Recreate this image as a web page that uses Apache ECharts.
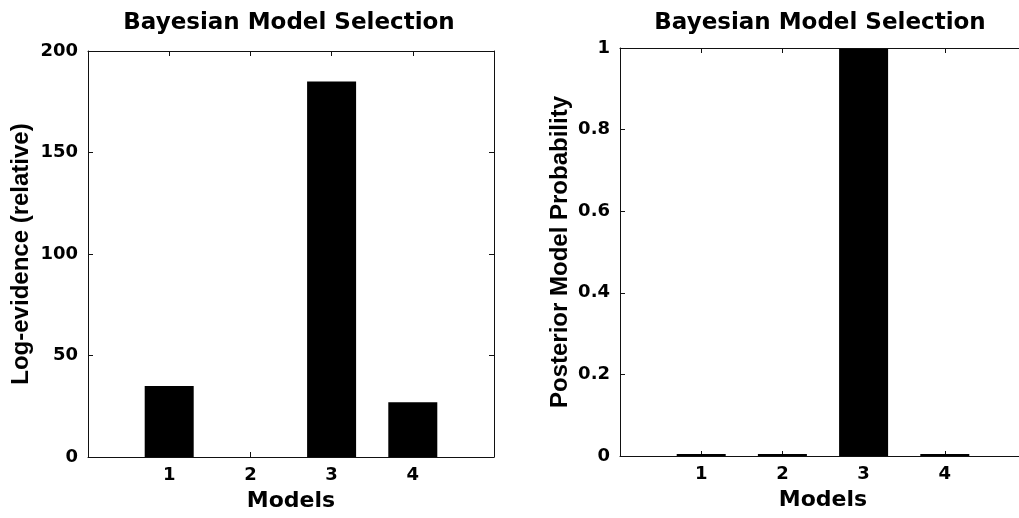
<!DOCTYPE html>
<html>
<head>
<meta charset="utf-8">
<script src="https://cdn.jsdelivr.net/npm/echarts@6/dist/echarts.min.js"></script>
<style>
    html, body { margin: 0; padding: 0; background: #fff; }
    #chart { width: 1019px; height: 518px; }
</style>
</head>
<body>
<div id="chart"></div>
<script>
// data
const models = [1, 2, 3, 4];
const logEvidence = [35, 0, 185, 27];
const posterior = [0.005, 0.005, 0.998, 0.005];
const logTicks = [0, 50, 100, 150, 200];
const probTicks = [0, 0.2, 0.4, 0.6, 0.8, 1];

// the reference is stretched sideways, DejaVu is the wide one
const FONT = 'DejaVu Sans';
const YFONT = 'Liberation Sans';

function pairs(values) {
    return models.map(function (m, i) { return [m, values[i]]; });
}

// x axes: bottom with labels, top only ticks (matlab box)
function xAxes(gridIndex, name) {
    let base = {
        gridIndex: gridIndex,
        type: 'value',
        min: 0,
        max: 5,
        interval: 1,
        splitLine: { show: false },
        axisLine: { onZero: false, lineStyle: { color: '#111', width: 1 } },
        axisTick: { inside: true, length: 5, lineStyle: { color: '#111' } }
    };
    let bottom = Object.assign({}, base, {
        position: 'bottom',
        name: name,
        nameLocation: 'middle',
        nameGap: 33,
        nameTextStyle: { color: '#000', fontFamily: FONT, fontWeight: 'bold', fontSize: 22 },
        axisLabel: {
            color: '#000', fontFamily: FONT, fontWeight: 'bold', fontSize: 18, margin: 9,
            formatter: function (v) { return models.indexOf(v) >= 0 ? String(v) : ''; }
        }
    });
    let top = Object.assign({}, base, { position: 'top', axisLabel: { show: false } });
    return [bottom, top];
}

function yAxes(gridIndex, name, ticks, nameGap) {
    let base = {
        gridIndex: gridIndex,
        type: 'value',
        min: ticks[0],
        max: ticks[ticks.length - 1],
        interval: ticks[1] - ticks[0],
        splitLine: { show: false },
        axisLine: { show: true, onZero: false, lineStyle: { color: '#111', width: 1 } },
        axisTick: { show: true, inside: true, length: 5, lineStyle: { color: '#111' } }
    };
    let left = Object.assign({}, base, {
        position: 'left',
        name: name,
        nameLocation: 'middle',
        nameGap: nameGap,
        nameTextStyle: { color: '#000', fontFamily: YFONT, fontWeight: 'bold', fontSize: 24 },
        axisLabel: {
            color: '#000', fontFamily: FONT, fontWeight: 'bold', fontSize: 18, margin: 10,
            formatter: function (v) { return String(+v.toFixed(1)); }
        }
    });
    let right = Object.assign({}, base, { position: 'right', axisLabel: { show: false } });
    return [left, right];
}

function titleText(x, text) {
    return {
        type: 'text',
        x: x,
        y: 23,
        style: {
            text: text,
            fill: '#000',
            font: 'bold 23px "' + FONT + '"',
            textAlign: 'center',
            textVerticalAlign: 'middle'
        }
    };
}

let chart = echarts.init(document.getElementById('chart'), null, { renderer: 'canvas' });
let xs = xAxes(0, 'Models').concat(xAxes(1, 'Models'));
let ys = yAxes(0, 'Log-evidence (relative)', logTicks, 55).concat(yAxes(1, 'Posterior Model Probability', probTicks, 48));

let option = {
    backgroundColor: '#fff',
    animation: false,
    grid: [
        { left: 88, top: 51, width: 406, height: 406, outerBoundsMode: 'none' },
        // right box runs off the edge of the picture
        { left: 620, top: 48, width: 406, height: 408, outerBoundsMode: 'none' }
    ],
    xAxis: xs,
    yAxis: ys,
    graphic: [titleText(289, 'Bayesian Model Selection'), titleText(820, 'Bayesian Model Selection')],
    series: [
        {
            type: 'bar',
            xAxisIndex: 0,
            yAxisIndex: 0,
            barWidth: 49,
            itemStyle: { color: '#000' },
            data: pairs(logEvidence)
        },
        {
            type: 'bar',
            xAxisIndex: 2,
            yAxisIndex: 2,
            barWidth: 49,
            itemStyle: { color: '#000' },
            data: pairs(posterior)
        }
    ]
};
chart.setOption(option);
</script>
</body>
</html>
